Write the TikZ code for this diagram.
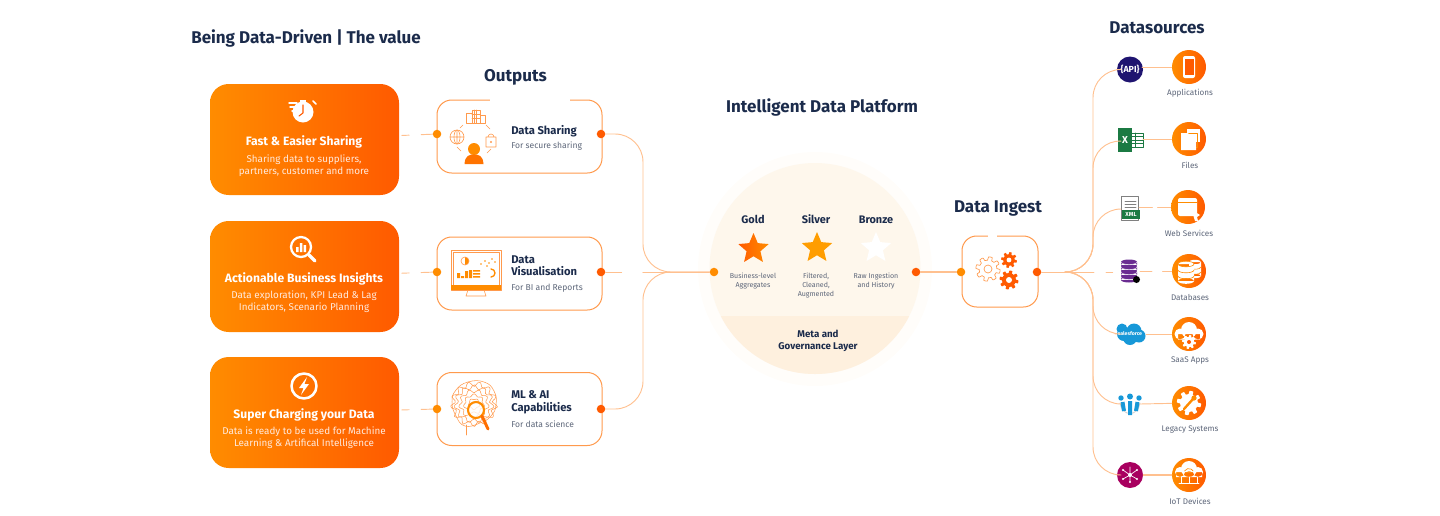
\documentclass[tikz,border=0pt]{standalone}
\usepackage{fontspec}
\setmainfont{Fira Sans}
\usetikzlibrary{shapes.geometric}
\definecolor{navyT}{HTML}{1B2B4B}
\definecolor{greyT}{HTML}{5D6679}
\definecolor{oA}{HTML}{FF8C00}
\definecolor{oB}{HTML}{FF5A00}
\definecolor{oC}{HTML}{FF9A4D}
\definecolor{wireC}{HTML}{FFC08F}
\definecolor{paleC}{HTML}{FFEADD}
\definecolor{haloA}{HTML}{FFFDFA}
\definecolor{haloB}{HTML}{FEF7EC}
\definecolor{haloC}{HTML}{FEF0DE}
\definecolor{apiC}{HTML}{1F1470}
\definecolor{xlC}{HTML}{1B7A43}
\definecolor{dbC}{HTML}{6A2C91}
\definecolor{sfC}{HTML}{1798D8}
\definecolor{iotC}{HTML}{A8005F}
\tikzset{
  headtxt/.style={text=navyT,font=\fontsize{12.75}{15}\selectfont\bfseries,inner sep=0pt},
  valuecard/.style={rectangle,rounded corners=14pt,left color=oA,right color=oB,
    minimum width=141.75pt,minimum height=83.25pt,inner sep=0pt},
  valuetitle/.style={text=white,font=\fontsize{9.1}{11}\selectfont\bfseries,inner sep=0pt},
  valuetxt/.style={text=paleC,font=\fontsize{7.4}{9}\selectfont,inner sep=0pt,align=center},
  outcard/.style={rectangle,rounded corners=11pt,draw=oC,line width=0.75pt,fill=white,
    minimum width=123.75pt,minimum height=54.75pt,inner sep=0pt},
  outtitle/.style={text=navyT,font=\fontsize{8.4}{9.3}\selectfont\bfseries,inner sep=0pt,
    anchor=north west,align=left},
  outtxt/.style={text=greyT,font=\fontsize{6.4}{8}\selectfont,inner sep=0pt,anchor=west},
  dotA/.style={circle,fill=oA,minimum size=6.4pt,inner sep=0pt},
  dotB/.style={circle,fill=oB,minimum size=6.4pt,inner sep=0pt},
  wire/.style={draw=wireC,line width=0.7pt},
  layertitle/.style={text=navyT,font=\fontsize{8.2}{10}\selectfont\bfseries,inner sep=0pt},
  layertxt/.style={text=greyT,font=\fontsize{5.3}{6.8}\selectfont,inner sep=0pt,align=center},
  starbadge/.style={star,star points=5,star point ratio=2.2,minimum size=24pt,inner sep=0pt},
  srcdisc/.style={circle,left color=oA,right color=oB,minimum size=25.5pt,inner sep=0pt},
  srctxt/.style={text=greyT,font=\fontsize{6.1}{7}\selectfont,inner sep=0pt},
  thinO/.style={draw=oC,line width=0.45pt},
}
\newcommand{\gearat}[4]{% centre x, centre y, radius, path options
  \path[#4] plot[domain=0:360,samples=121] ({#1+#3*(1+0.16*tanh(6*sin(8*\x)))*cos(\x)},
    {#2+#3*(1+0.16*tanh(6*sin(8*\x)))*sin(\x)}) -- cycle;
}
\begin{document}
\begin{tikzpicture}[x=0.75pt,y=-0.75pt,line cap=round,line join=round]
  \useasboundingbox (0,0) rectangle (1440,515);

  \node[headtxt,anchor=west] (pagetitle) at (191,38.5) {Being Data-Driven | The value};
  \node[headtxt] (outputshead) at (515.5,77) {Outputs};
  \node[headtxt] (platformhead) at (822,107) {Intelligent Data Platform};
  \node[headtxt] (ingesthead) at (998,208.5) {Data Ingest};
  \node[headtxt] (sourceshead) at (1157,27.5) {Datasources};

  % value cards
  \node[valuecard] (fastcard) at (304.5,139.5) {};
  \node[valuecard] (insightcard) at (304.5,276.5) {};
  \node[valuecard] (chargecard) at (304.5,412.5) {};
  \node[valuetitle] (fasttitle) at (304,142) {Fast \& Easier Sharing};
  \node[valuetxt] (fasttxt) at (304,165.5) {Sharing data to suppliers,\\partners, customer and more};
  \node[valuetitle] (insighttitle) at (304,278.5) {Actionable Business Insights};
  \node[valuetxt] (insighttxt) at (304,302) {Data exploration, KPI Lead \& Lag\\Indicators, Scenario Planning};
  \node[valuetitle] (chargetitle) at (304,415) {Super Charging your Data};
  \node[valuetxt] (chargetxt) at (304,438) {Data is ready to be used for Machine\\Learning \& Artifical Intelligence};

  % stopwatch
  \fill[white] (303,112) circle (10.5);
  \fill[white] (300,99.5) rectangle (306,102);
  \draw[white,line width=1.2pt] (313,101) -- (316,104);
  \draw[white,line width=1.1pt] (289,103) -- (297,103) (290,107) -- (295,107) (292,111) -- (294,111);
  \draw[oB,line width=0.8pt] (303,105) -- (303,113) -- (299,116);
  % magnifier with bars
  \draw[white,line width=1.7pt] (301,247) circle (10);
  \draw[white,line width=2.6pt] (309,255) -- (315,261);
  \fill[white] (296,247) rectangle (298.5,252) (299.8,243) rectangle (302.3,252) (303.6,245) rectangle (306.1,252);
  % bolt
  \draw[white,line width=1.9pt] (304,386) circle (12.5);
  \fill[white] (307,377) -- (299,388) -- (303.5,388) -- (301,395) -- (309,384) -- (304.5,384) -- cycle;

  % output cards
  \node[outcard] (sharecard) at (519.5,136.5) {};
  \node[outcard] (vizcard) at (519.5,273.5) {};
  \node[outcard] (mlcard) at (519.5,409) {};
  \fill[white] (490,99) rectangle (570,101.5);
  \node[outtitle,anchor=west] (sharetitle) at (511,131) {Data Sharing};
  \node[outtxt] (sharetxt) at (511,146.5) {For secure sharing};
  \node[outtitle] (viztitle) at (511,255.5) {Data\\Visualisation};
  \node[outtxt] (viztxt) at (511,288.5) {For BI and Reports};
  \node[outtitle] (mltitle) at (511,390.5) {ML \& AI\\Capabilities};
  \node[outtxt] (mltxt) at (511,424.5) {For data science};

  % sharing icon
  \begin{scope}[thinO]
    \draw (466,113) rectangle (472,123) (472,110) rectangle (480,123) (480,115) rectangle (485,123);
    \draw (474,110) -- (474,123) (476.5,110) -- (476.5,123) (472,114) -- (480,114) (472,118) -- (480,118);
    \draw (457,137) circle (7) (457,130) -- (457,144) (450,137) -- (464,137);
    \draw (457,137) ellipse (3 and 7);
    \draw (486,137) rectangle (496,147) (488,137) arc (180:360:3);
    \draw (463,125) -- (460,128) (486,125) -- (490,129) (457,147) -- (461,151) (491,149) -- (487,153);
  \end{scope}
  \fill[oC] (491,142) circle (1.2);
  \fill[oA] (474,149) circle (6);
  \fill[oB!50!oA] (464.5,164) .. controls (465,155) and (470,154.5) .. (474,154.5)
    .. controls (478,154.5) and (483,155) .. (483.5,164) -- cycle;
  % monitor icon
  \draw[thinO] (451,250) rectangle (501,290) (453,252) rectangle (499,285);
  \fill[oA] (451,285) rectangle (501,290);
  \draw[thinO] (468,290) -- (466,296) -- (486,296) -- (484,290);
  \fill[oA] (465,261) -- (465,257) arc (-90:90:4) -- cycle;
  \draw[thinO] (465,261) circle (4);
  \foreach \dx/\dy in {481/264,485/261,489/263,492/259,495/262,487/266}
    \fill[oA] (\dx,\dy) circle (0.8);
  \fill[oA] (457,273) rectangle (460,278) (461,276) rectangle (464,278) (465,271) rectangle (468,278) (469,270) rectangle (472,278);
  \fill[oA] (473,270) rectangle (480,271.5) (473,273) rectangle (480,274.5) (473,276) rectangle (480,277.5);
  \draw[oA,line width=1pt] (491,269) arc (-90:90:4);
  % brain icon
  \begin{scope}[draw=oC,line width=0.4pt]
    \draw plot[smooth cycle,tension=0.8] coordinates
      {(452,402) (456,390) (468,382) (484,382) (494,391) (496,405) (491,416) (480,423) (465,426) (456,416)};
    \foreach \rr/\kk in {5/5,9/7,13/9,17/11,20/13}
      \draw plot[smooth,domain=0:360,samples=50]
        ({474+1.05*\rr*(1+0.13*sin(\kk*\x))*cos(\x)},{404+\rr*(1+0.13*sin(\kk*\x))*sin(\x)});
    \draw (466,425) -- (466,435);
  \end{scope}
  \draw[oA,line width=1.6pt,fill=white,fill opacity=0.75] (476,410) circle (8);
  \draw[oB!60!oA,line width=2.2pt] (482,416) -- (488,429);

  % platform
  \node[circle,fill=haloA,minimum size=175.5pt,inner sep=0pt] (plathalo) at (815,269) {};
  \node[circle,fill=haloB,minimum size=158.25pt,inner sep=0pt] (platcore) at (815,268.5) {};
  \begin{scope}
    \clip (815,268.5) circle (105.5);
    \fill[haloC] (700,316) rectangle (930,380);
  \end{scope}
  \node[layertitle] (goldhead) at (753,219.5) {Gold};
  \node[layertitle] (silverhead) at (816,219.5) {Silver};
  \node[layertitle] (bronzehead) at (876,219.5) {Bronze};
  \node[starbadge,left color=oB,right color=oA] (goldstar) at (753.5,249) {};
  \node[starbadge,fill=oA!85!yellow] (silverstar) at (817,248) {};
  \node[starbadge,fill=white] (bronzestar) at (876,248) {};
  \node[layertxt,anchor=north] (goldtxt) at (753,272.5) {Business-level\\Aggregates};
  \node[layertxt,anchor=north] (silvertxt) at (816,272.5) {Filtered,\\Cleaned,\\Augmented};
  \node[layertxt,anchor=north] (bronzetxt) at (876,272.5) {Raw Ingestion\\and History};
  \node[layertitle,align=center,font=\fontsize{7.3}{9}\selectfont\bfseries] (metatxt) at (818,340.5) {Meta and\\Governance Layer};

  % ingest card
  \node[outcard,minimum width=57pt,minimum height=53.25pt] (ingestcard) at (1000,271.5) {};
  \fill[white] (988,235) rectangle (997,237.5);
  \gearat{988}{269}{10.5}{draw=oC,line width=0.5pt,fill=white}
  \draw[oC,line width=0.5pt] (988,269) circle (4);
  \gearat{1009}{260}{6.8}{fill=oB}
  \fill[white] (1009,260) circle (2.4);
  \gearat{1009}{280}{8.2}{fill=oB}
  \fill[white] (1009,280) circle (3);

  % data sources
  \node[srcdisc] (appdisc) at (1189,67) {};
  \node[srcdisc] (filedisc) at (1189,139) {};
  \node[srcdisc] (webdisc) at (1188,207) {};
  \node[srcdisc] (dbdisc) at (1189,271) {};
  \node[srcdisc] (saasdisc) at (1189,334) {};
  \node[srcdisc] (legacydisc) at (1189,403) {};
  \node[srcdisc] (iotdisc) at (1189,475) {};
  \node[srctxt] (apptxt) at (1190,93) {Applications};
  \node[srctxt] (filetxt) at (1190,165) {Files};
  \node[srctxt] (webtxt) at (1189,233) {Web Services};
  \node[srctxt] (dbtxt) at (1190,297.5) {Databases};
  \node[srctxt] (saastxt) at (1190,360.5) {SaaS Apps};
  \node[srctxt] (legacytxt) at (1190,430) {Legacy Systems};
  \node[srctxt] (iottxt) at (1190,501.5) {IoT Devices};

  % source logos
  \node[circle,fill=apiC,minimum size=19.5pt,inner sep=0pt,text=white,
        font=\fontsize{6.6}{6.6}\selectfont\bfseries] (apilogo) at (1130,69.5) {\{API\}};
  \fill[white] (1129,133) rectangle (1143,147);
  \draw[xlC,line width=0.4pt] (1129,133) rectangle (1143,147)
    (1129,136.5) -- (1143,136.5) (1129,140) -- (1143,140) (1129,143.5) -- (1143,143.5) (1135,133) -- (1135,147);
  \node[rectangle,fill=xlC,minimum width=11pt,minimum height=18pt,inner sep=0pt,text=white,
        font=\fontsize{7.5}{7.5}\selectfont\bfseries] (excellogo) at (1125,140) {X};
  \node[rectangle,draw=gray,fill=white,line width=0.5pt,minimum width=12.5pt,minimum height=18pt,
        inner sep=0pt] (xmllogo) at (1130,208.5) {};
  \foreach \ly in {201,204,207}
    \draw[gray,line width=0.4pt] (1125,\ly) -- (1136,\ly);
  \node[rectangle,fill=xlC,text=white,minimum width=14pt,minimum height=6.5pt,inner sep=0pt,
        font=\fontsize{4.4}{4.4}\selectfont\bfseries] (xmlband) at (1131,214.5) {XML};
  \node[inner sep=0pt,minimum size=11pt] (dblogo) at (1129,272) {};
  \foreach \ly in {280,275,270,265}{
    \fill[dbC] (1121,\ly-3) rectangle (1137,\ly) (1129,\ly) ellipse (8 and 2.5);
    \fill[dbC] (1129,\ly-3) ellipse (8 and 2.5);
    \draw[white,line width=0.3pt] (1121,\ly-3) arc (180:0:8 and 2.5);
  }
  \fill[black] (1136.5,279.5) circle (3.5);
  \fill[sfC] (1124,334) circle (7) (1134,331) circle (7.5) (1139,336) circle (6.5) (1130,338) circle (7) (1122,329) circle (5.5);
  \node[inner sep=0pt,text=white,font=\fontsize{3.9}{3.9}\selectfont\bfseries] (sflogo) at (1130,334) {salesforce};
  \fill[sfC] (1121,398) circle (2.7) (1130,396.5) circle (3) (1139,398) circle (2.7);
  \draw[gray!40,line width=0.6pt] (1120,403) .. controls (1122,417) and (1138,417) .. (1140,403);
  \draw[sfC,line width=3pt,line cap=butt] (1130,401) -- (1130,415) (1122.5,402) -- (1124,411) (1137.5,402) -- (1136,411);
  \node[circle,fill=iotC,minimum size=19.5pt,inner sep=0pt] (iotlogo) at (1130,475) {};
  \draw[white,line width=0.5pt] (1130,475) -- (1130,467) (1130,475) -- (1123,479) (1130,475) -- (1137,479) (1130,475) -- (1123,470) (1130,475) -- (1137,470) (1130,475) -- (1130,482);
  \fill[white] (1130,475) circle (2) (1130,482) circle (1.2) (1123,479) circle (1.2) (1137,479) circle (1.2) (1123,470) circle (1.2) (1137,470) circle (1.2);

  % disc glyphs
  \fill[white,rounded corners=1.5pt] (1183,56) rectangle (1195,78);
  \fill[oB] (1184.5,59) rectangle (1193.5,75);
  \fill[white] (1187,129) rectangle (1200,142);
  \draw[oA,line width=0.4pt] (1184,133) rectangle (1197,147);
  \fill[white] (1181,133) -- (1188,133) -- (1190,136) -- (1196,136) -- (1196,150) -- (1181,150) -- cycle;
  \fill[white,rounded corners=1.5pt] (1178,198) rectangle (1197,216);
  \draw[oA,line width=0.4pt] (1178,202) -- (1197,202);
  \fill[white] (1192,210) -- (1200,215) -- (1197,217) -- (1198,221) -- (1195,221) -- (1194,218) -- cycle;
  % two stacked cylinders, the rear one first
  \fill[white] (1189,262) rectangle (1201,276) (1195,262) ellipse (6 and 2.2) (1195,276) ellipse (6 and 2.2);
  \draw[oA,line width=0.45pt] (1189,267) arc (180:0:6 and 2.2) (1189,272) arc (180:0:6 and 2.2);
  \fill[white] (1178,264) rectangle (1194,281) (1186,264) ellipse (8 and 2.8) (1186,281) ellipse (8 and 2.8);
  \draw[oA,line width=0.45pt] (1186,264) ellipse (8 and 2.8);
  \draw[oA,line width=0.45pt] (1178,270) arc (180:0:8 and 2.8) (1178,276) arc (180:0:8 and 2.8);
  \fill[white] (1180,334) circle (5.5) (1189,330) circle (8) (1198,334) circle (5.5) (1178,334) rectangle (1200,339.5);
  \gearat{1189}{342}{6}{fill=white}
  \fill[oB] (1189,342) circle (2);
  \gearat{1189}{403}{10.5}{fill=white}
  \draw[oA,line width=1.8pt] (1184,409) -- (1193,399);
  \fill[oA] (1194,398) circle (2.6);
  \fill[white] (1180,472) circle (5) (1189,469) circle (8) (1198,472) circle (5) (1176,472) rectangle (1202,477);
  \draw[white,line width=0.6pt] (1181,477) -- (1181,483) (1189,477) -- (1189,483) (1197,477) -- (1197,483) (1179,483) -- (1199,483);
  \draw[oA,line width=0.5pt] (1184.5,471) arc (-150:-30:5) (1186.5,473) arc (-150:-30:3);

  % connector dots
  \node[dotA] (shareL) at (437,134) {};
  \node[dotB] (shareR) at (601,134) {};
  \node[dotA] (vizL) at (437,272) {};
  \node[dotB] (vizR) at (601,272) {};
  \node[dotA] (mlL) at (437,409) {};
  \node[dotB] (mlR) at (601,409) {};
  \node[dotA] (platL) at (714,272) {};
  \node[dotB] (platR) at (916,272) {};
  \node[dotA] (ingestL) at (961,272) {};
  \node[dotB] (ingestR) at (1037,272) {};
  \coordinate (leftbus) at (643,272);
  \coordinate (fanjoin) at (1066,272);
  \foreach \nm/\rowy in {apibus/69.5,excelbus/140,xmlbus/209,sfbus/334,peoplebus/404,iotbus/475}
    \coordinate (\nm) at (1093,\rowy);
  \coordinate (sfL) at (1115,334);
  \coordinate (sfR) at (1146,334);
  \coordinate (peopleL) at (1120,404);
  \coordinate (peopleR) at (1140,404);
  \coordinate (excelL) at (1118,141);
  \coordinate (excelR) at (1143,139);
  \coordinate (apiR) at (1142,67);
  \coordinate (xmlL) at (1121,209);
  \coordinate (xmlR) at (1139,207);
  \coordinate (dbR) at (1140,271);

  % dashed stubs out of the value cards
  \foreach \from/\to in {shareL/fastcard,vizL/insightcard,mlL/chargecard}
    \draw[wire,dash pattern=on 8.5pt off 9pt on 5.5pt off 40pt] (\from) -- (\to);

  % output side wiring
  \begin{scope}[wire,rounded corners=21pt]
    \draw (shareR) -| (leftbus) -- (platL);
    \draw (mlR) -| (leftbus) -- (platL);
  \end{scope}
  \draw[wire,dash pattern=on 12pt off 16pt on 200pt] (vizR) -- (platL);
  \draw[wire,line width=0.9pt] (platR) -- (ingestL);
  \draw[wire] (ingestR) -- (fanjoin);

  % fan to the logos
  \begin{scope}[wire,rounded corners=21pt]
    \foreach \nm/\logo in {apibus/apilogo,excelbus/excelL,xmlbus/xmlL,sfbus/sfL,peoplebus/peopleL,iotbus/iotlogo}
      \draw (fanjoin) -| (\nm) -- (\logo);
  \end{scope}
  \foreach \logo/\disc in {apiR/appdisc,excelR/filedisc,sfR/saasdisc,peopleR/legacydisc}
    \draw[wire] (\logo) -- (\disc);
  \draw[wire,line width=0.9pt] (iotlogo) -- (iotdisc);
  \draw[wire,dash pattern=on 10pt off 4pt on 100pt] (xmlR) -- (webdisc);
  \draw[wire,dash pattern=on 21pt off 9pt on 5pt off 40pt] (fanjoin) -- (dblogo);
  \draw[wire,dash pattern=on 9pt off 8pt on 40pt] (dbR) -- (dbdisc);
\end{tikzpicture}
\end{document}
